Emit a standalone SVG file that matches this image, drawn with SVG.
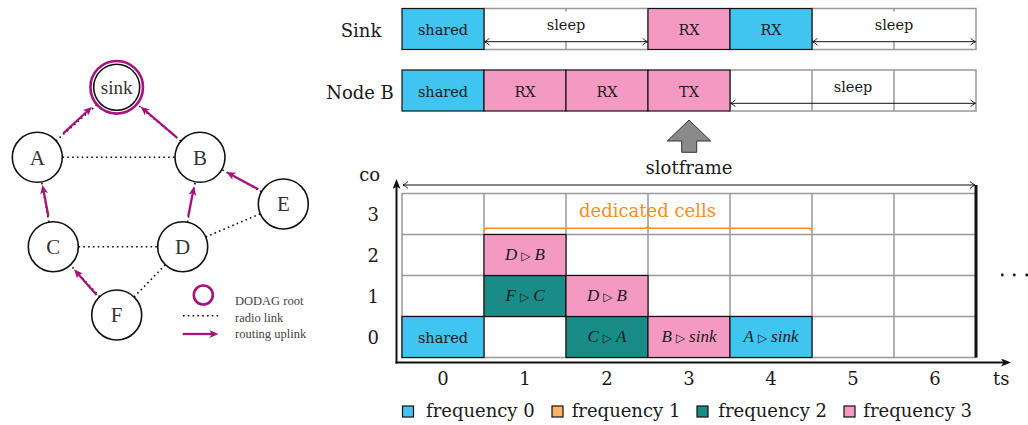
<svg xmlns="http://www.w3.org/2000/svg" width="1028" height="425" viewBox="0 0 1028 425">
<style>
  .lbl{font-family:"DejaVu Serif",serif;fill:#1a1a1a;font-size:18px}
  .ct{font-family:"DejaVu Serif",serif;fill:#1a1a1a;font-size:14.5px;text-anchor:middle}
  .m{font-family:"Liberation Serif",serif;font-style:italic;fill:#1a1a1a;font-size:17px;text-anchor:middle}
  .tri{font-family:"DejaVu Sans",sans-serif;font-style:normal;font-size:12px}
  .gt{font-family:"Liberation Serif",serif;fill:#333;font-size:21px;text-anchor:middle}
  .lg{font-family:"Liberation Serif",serif;fill:#444;font-size:12.5px}
  .node{fill:#fff;stroke:#111;stroke-width:1.6}
  .blue{fill:#3FC5F0;stroke:#111;stroke-width:1.2}
  .pink{fill:#F49AC2;stroke:#111;stroke-width:1.2}
  .teal{fill:#1A8C87;stroke:#111;stroke-width:1.2}
  .orange{fill:#FFB366;stroke:#111;stroke-width:1.2}
  .wc{fill:#fff;stroke:#999;stroke-width:1.5}
  .gl{stroke:#999;stroke-width:1.5;fill:none}
  .dot{stroke:#111;stroke-width:1.6;stroke-dasharray:1.6 3.2;fill:none}
  .up{stroke:#A8127F;stroke-width:2.3;fill:none;marker-end:url(#mag)}
  .dim{stroke:#111;stroke-width:1;fill:none;marker-start:url(#open);marker-end:url(#open)}
  .axis{stroke:#111;stroke-width:2;fill:none;marker-end:url(#blk)}
</style>
<defs>
  <marker id="mag" markerUnits="userSpaceOnUse" viewBox="0 0 9 8" markerWidth="9" markerHeight="8" refX="3" refY="4" orient="auto">
    <path d="M0,0 L9,4 L0,8 L2.5,4 Z" fill="#A8127F"/>
  </marker>
  <marker id="blk" markerUnits="userSpaceOnUse" viewBox="0 0 10 8" markerWidth="10" markerHeight="8" refX="3" refY="4" orient="auto">
    <path d="M0,0 L10,4 L0,8 L2.5,4 Z" fill="#111"/>
  </marker>
  <marker id="open" markerUnits="userSpaceOnUse" viewBox="0 0 6 8" markerWidth="6" markerHeight="8" refX="5.5" refY="4" orient="auto-start-reverse">
    <path d="M0.5,0.5 Q3,3 5.5,4 Q3,5 0.5,7.5" fill="none" stroke="#111" stroke-width="0.9"/>
  </marker>
</defs>
<rect width="1028" height="425" fill="#fff"/>

<!-- ===== Left graph ===== -->
<g id="connectors">
  <line class="dot" x1="56" y1="140.8" x2="96.8" y2="104.8"/>
  <line class="dot" x1="180.9" y1="141.2" x2="136.6" y2="104"/>
  <line class="dot" x1="62.5" y1="157.3" x2="175" y2="157.3"/>
  <line class="dot" x1="48.9" y1="222.1" x2="41.7" y2="181.9"/>
  <line class="dot" x1="187.4" y1="222.2" x2="195.3" y2="181.8"/>
  <line class="dot" x1="261.5" y1="191.8" x2="221.8" y2="169.5"/>
  <line class="dot" x1="78.5" y1="246.7" x2="157.5" y2="246.7"/>
  <line class="dot" x1="205.7" y1="236.9" x2="260.3" y2="213.8"/>
  <line class="dot" x1="99.7" y1="296.7" x2="70.3" y2="265"/>
  <line class="dot" x1="134.1" y1="297" x2="165.3" y2="264.7"/>
  <line class="up" x1="63.3" y1="133.3" x2="87.5" y2="111"/>
  <line class="up" x1="176.7" y1="137.3" x2="145.3" y2="110.6"/>
  <line class="up" x1="48.3" y1="216" x2="43.6" y2="190.9"/>
  <line class="up" x1="188.3" y1="216" x2="192.9" y2="192.4"/>
  <line class="up" x1="258.3" y1="189.3" x2="231.7" y2="174.9"/>
  <line class="up" x1="96.7" y1="295" x2="78.1" y2="273.9"/>
</g>
<g id="node-sink">
  <circle cx="116.7" cy="87.3" r="26.3" fill="#fff" stroke="#A8127F" stroke-width="2.6"/>
  <circle cx="116.7" cy="87.3" r="23" class="node"/>
  <text x="116.7" y="93.5" class="gt" style="font-size:19px">sink</text>
</g>
<g id="node-A"><circle cx="37.3" cy="157.3" r="25" class="node"/><text x="37.3" y="164.5" class="gt">A</text></g>
<g id="node-B"><circle cx="200" cy="157.3" r="25" class="node"/><text x="200" y="164.5" class="gt">B</text></g>
<g id="node-E"><circle cx="283.3" cy="204" r="25" class="node"/><text x="283.3" y="211.2" class="gt">E</text></g>
<g id="node-C"><circle cx="53.3" cy="246.7" r="25" class="node"/><text x="53.3" y="253.9" class="gt">C</text></g>
<g id="node-D"><circle cx="182.7" cy="246.7" r="25" class="node"/><text x="182.7" y="253.9" class="gt">D</text></g>
<g id="node-F"><circle cx="116.7" cy="315" r="25" class="node"/><text x="116.7" y="322.2" class="gt">F</text></g>

<g id="graph-legend">
  <circle cx="203.3" cy="295" r="9.5" fill="none" stroke="#A8127F" stroke-width="2.6"/>
  <line class="dot" x1="183" y1="315.7" x2="219" y2="315.7"/>
  <line class="up" x1="182.7" y1="334" x2="212.3" y2="334"/>
  <text x="235" y="304.5" class="lg">DODAG root</text>
  <text x="235" y="321.5" class="lg">radio link</text>
  <text x="235" y="338" class="lg">routing uplink</text>
</g>

<!-- ===== Top timelines ===== -->
<g id="row-sink">
  <text x="361" y="36.7" class="lbl" text-anchor="middle">Sink</text>
  <rect x="484" y="8.5" width="164" height="41" class="wc"/>
  <line class="gl" x1="566" y1="8.5" x2="566" y2="11.5"/>
  <line class="gl" x1="566" y1="41.7" x2="566" y2="49.5"/>
  <rect x="812" y="8.5" width="164" height="41" class="wc"/>
  <line class="gl" x1="894" y1="8.5" x2="894" y2="11.5"/>
  <line class="gl" x1="894" y1="41.7" x2="894" y2="49.5"/>
  <rect x="402" y="8.5" width="82" height="41" class="blue"/>
  <rect x="648" y="8.5" width="82" height="41" class="pink"/>
  <rect x="730" y="8.5" width="82" height="41" class="blue"/>
  <text x="443" y="35" class="ct">shared</text>
  <text x="689" y="35" class="ct">RX</text>
  <text x="771" y="35" class="ct">RX</text>
  <line class="dim" x1="484.5" y1="41.7" x2="647.5" y2="41.7"/>
  <line class="dim" x1="812.5" y1="41.7" x2="975.5" y2="41.7"/>
  <text x="566" y="29.5" class="ct">sleep</text>
  <text x="894" y="29.5" class="ct">sleep</text>
</g>
<g id="row-nodeB">
  <text x="360" y="99.3" class="lbl" text-anchor="middle">Node B</text>
  <rect x="730" y="70" width="246" height="41" class="wc"/>
  <line class="gl" x1="812" y1="70" x2="812" y2="111"/>
  <line class="gl" x1="894" y1="70" x2="894" y2="111"/>
  <rect x="826" y="76" width="54" height="24" fill="#fff"/>
  <rect x="402" y="70" width="82" height="41" class="blue"/>
  <rect x="484" y="70" width="82" height="41" class="pink"/>
  <rect x="566" y="70" width="82" height="41" class="pink"/>
  <rect x="648" y="70" width="82" height="41" class="pink"/>
  <text x="443" y="96.5" class="ct">shared</text>
  <text x="525" y="96.5" class="ct">RX</text>
  <text x="607" y="96.5" class="ct">RX</text>
  <text x="689" y="96.5" class="ct">TX</text>
  <line class="dim" x1="730.5" y1="103.3" x2="975.5" y2="103.3"/>
  <text x="853" y="91.7" class="ct">sleep</text>
</g>

<g id="slotframe-arrow">
  <polygon points="689,120 710.7,141 696.7,141 696.7,152.3 681.7,152.3 681.7,141 667.3,141" fill="#8a8a8a" stroke="#333" stroke-width="1"/>
  <text x="689" y="174" class="lbl" text-anchor="middle">slotframe</text>
</g>

<!-- ===== Grid ===== -->
<g id="grid">
  <rect x="402" y="193.5" width="574" height="164" class="wc"/>
  <path class="gl" d="M484,193.5V357.5 M566,193.5V357.5 M648,193.5V357.5 M730,193.5V357.5 M812,193.5V357.5 M894,193.5V357.5 M402,234.5H976 M402,275.5H976 M402,316.5H976"/>
  <rect x="402" y="316.5" width="82" height="41" class="blue"/>
  <rect x="566" y="316.5" width="82" height="41" class="teal"/>
  <rect x="648" y="316.5" width="82" height="41" class="pink"/>
  <rect x="730" y="316.5" width="82" height="41" class="blue"/>
  <rect x="484" y="275.5" width="82" height="41" class="teal"/>
  <rect x="566" y="275.5" width="82" height="41" class="pink"/>
  <rect x="484" y="234.5" width="82" height="41" class="pink"/>
  <line x1="976" y1="185" x2="976" y2="357.5" stroke="#111" stroke-width="3"/>
</g>
<g id="cell-labels">
  <text x="443" y="342.7" class="ct">shared</text>
  <text x="607" y="342" class="m">C<tspan class="tri" dx="4">▷</tspan><tspan dx="4">A</tspan></text>
  <text x="689" y="342" class="m">B<tspan class="tri" dx="4">▷</tspan><tspan dx="4">sink</tspan></text>
  <text x="771" y="342" class="m">A<tspan class="tri" dx="4">▷</tspan><tspan dx="4">sink</tspan></text>
  <text x="525" y="301" class="m">F<tspan class="tri" dx="4">▷</tspan><tspan dx="4">C</tspan></text>
  <text x="607" y="301" class="m">D<tspan class="tri" dx="4">▷</tspan><tspan dx="4">B</tspan></text>
  <text x="525" y="260" class="m">D<tspan class="tri" dx="4">▷</tspan><tspan dx="4">B</tspan></text>
</g>
<g id="dedicated">
  <path d="M484.3,231 Q484.3,228.3 487,228.3 H645 Q647.7,228.3 647.7,225.5 Q647.7,228.3 650.4,228.3 H809 Q811.7,228.3 811.7,231" fill="none" stroke="#FF8C1A" stroke-width="1.4"/>
  <text x="647.5" y="216.7" class="lbl" text-anchor="middle" style="fill:#FF8C1A">dedicated cells</text>
</g>
<g id="axes">
  <line class="dim" x1="403" y1="185" x2="975" y2="185"/>
  <line class="axis" x1="396.5" y1="363.5" x2="396.5" y2="186"/>
  <line class="axis" x1="395.5" y1="362.5" x2="1004" y2="362.5"/>
  <text x="369.7" y="180.7" class="lbl" text-anchor="middle">co</text>
  <text x="993" y="384.5" class="lbl">ts</text>
  <g class="lbl" text-anchor="middle">
    <text x="373.3" y="220.7">3</text>
    <text x="373.3" y="261.5">2</text>
    <text x="373.3" y="302.5">1</text>
    <text x="373.3" y="343.5">0</text>
    <text x="443" y="384.5">0</text>
    <text x="525" y="384.5">1</text>
    <text x="607" y="384.5">2</text>
    <text x="689" y="384.5">3</text>
    <text x="771" y="384.5">4</text>
    <text x="853" y="384.5">5</text>
    <text x="935" y="384.5">6</text>
  </g>
  <circle cx="1002.3" cy="275" r="1.4" fill="#111"/>
  <circle cx="1014.3" cy="275" r="1.4" fill="#111"/>
  <circle cx="1026.7" cy="275" r="1.4" fill="#111"/>
</g>

<g id="freq-legend">
  <rect x="402.5" y="406" width="11" height="11" class="blue"/>
  <text x="426" y="417" class="lbl">frequency 0</text>
  <rect x="552" y="406" width="11" height="11" class="orange"/>
  <text x="571.7" y="417" class="lbl">frequency 1</text>
  <rect x="697" y="406" width="11" height="11" class="teal"/>
  <text x="718.3" y="417" class="lbl">frequency 2</text>
  <rect x="844" y="406" width="11" height="11" class="pink"/>
  <text x="863.3" y="417" class="lbl">frequency 3</text>
</g>
</svg>
